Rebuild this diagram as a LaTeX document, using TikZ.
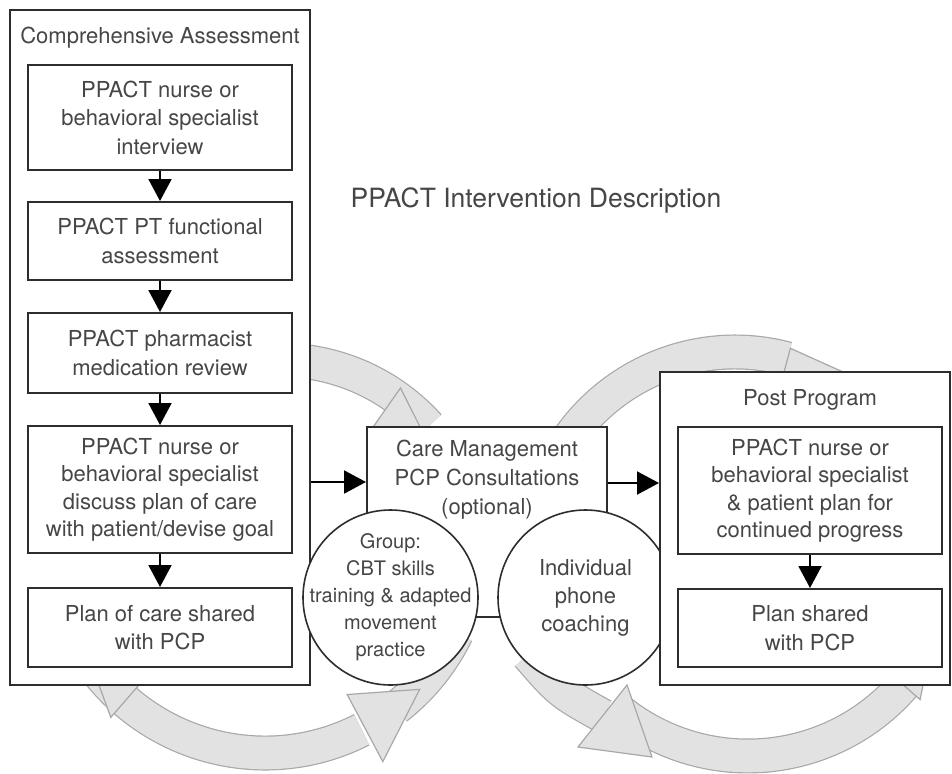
\documentclass[tikz,border=0pt]{standalone}
\usepackage{fontspec}
\setmainfont{TeX Gyre Heros}
\usetikzlibrary{arrows.meta,calc}
\definecolor{txt}{RGB}{70,70,70}
\definecolor{linec}{RGB}{45,45,45}
\definecolor{bandfill}{RGB}{226,226,226}
\definecolor{bandedge}{RGB}{168,168,168}
\newcommand\gband[4]{%
  \draw[bandO] ($(#1)+(#3:#2)$) arc[start angle=#3,end angle=#4,radius=#2];
  \draw[bandI] ($(#1)+(#3:#2)$) arc[start angle=#3,end angle=#4,radius=#2];}
\newcommand\gtiphead[7]{% center, base angle, outer r, inner r, tip angle, tip r, name
  \draw[gtip] ($(#1)+(#2:#3)$) -- ($(#1)+(#5:#6)$) -- ($(#1)+(#2:#4)$) -- cycle;}
\begin{document}
\begin{tikzpicture}[x=1pt,y=-1pt,
  bandO/.style={draw=bandedge,line width=35pt},
  bandI/.style={draw=bandfill,line width=32.6pt},
  gtip/.style={fill=bandfill,draw=bandedge,line width=1.2pt,line join=miter},
  outerbox/.style={draw=linec,line width=2pt,fill=white,inner sep=0pt},
  inbox/.style={draw=linec,line width=2pt,fill=white,minimum width=264pt,inner sep=0pt,
    align=center,text=txt,font=\fontsize{22}{28.5}\selectfont},
  lbl/.style={align=center,text=txt,inner sep=0pt,font=\fontsize{22}{29}\selectfont},
  circ/.style={circle,draw=linec,line width=1.6pt,fill=white,minimum size=175pt,inner sep=0pt},
  arr/.style={draw=black,line width=2pt,-{Triangle[width=23pt,length=22pt]}}]
\useasboundingbox (0,0) rectangle (952,773);
\fill[white] (0,0) rectangle (952,773);

% centres of the grey cycle arrows
\coordinate (CL1) at (280,560);
\coordinate (CL2) at (265,540);
\coordinate (CR) at (735,555);
\coordinate (CR2) at (748,550);

% left lobe
\gband{CL1}{200}{-105}{-42}
\gtiphead{CL1}{-55}{210}{160}{-40}{190}{hA}
\gband{CL2}{213}{150}{63}
\gtiphead{CL2}{131}{235}{191}{145}{213}{hL}
\gband{CL2}{213}{52}{26}
\gtiphead{CL2}{62}{251}{175}{44}{215}{hB}

% right lobe
\gband{CR}{203}{-150}{-75}
\gtiphead{CR}{-75}{214}{172}{-55}{215}{hC}
\gband{CR2}{206}{128}{40}
\gtiphead{CR2}{41}{228}{184}{27}{206}{hE}
\coordinate (dS) at (528,655);
\coordinate (dC) at (560,692);
\coordinate (dE) at (603,716);
\draw[bandO] (dS) .. controls (dC) .. (dE);
\draw[bandI] (dS) .. controls (dC) .. (dE);
\coordinate (hD1) at (627,685);
\coordinate (hD2) at (652,757);
\coordinate (hD3) at (578,747);
\draw[gtip] (hD1) -- (hD2) -- (hD3) -- cycle;

% title
\node[text=txt,inner sep=0pt,font=\fontsize{26.5}{30}\selectfont] (title) at (536,200) {PPACT Intervention Description};

% comprehensive assessment
\node[outerbox,minimum width=300pt,minimum height=675pt] (assess) at (160,347.5) {};
\node[lbl] (assesst) at (160,38) {Comprehensive Assessment};
\node[inbox,minimum height=105pt] (b1) at (160,117.5) {PPACT nurse or\\behavioral specialist\\interview};
\node[inbox,minimum height=78pt] (b2) at (160,241) {PPACT PT functional\\assessment};
\node[inbox,minimum height=80pt] (b3) at (160,353) {PPACT pharmacist\\medication review};
\node[inbox,minimum height=127pt,font=\fontsize{22}{27.5}\selectfont] (b4) at (160,489.5) {PPACT nurse or\\behavioral specialist\\discuss plan of care\\with patient/devise goal};
\node[inbox,minimum height=79pt] (b5) at (160,627.5) {Plan of care shared\\with PCP};

% care management
\node[outerbox,minimum width=240pt,minimum height=190pt] (care) at (487,522) {};
\node[lbl] (caret) at (487,480) {Care Management\\PCP Consultations\\(optional)};

% circles
\node[circ] (grp) at (390.5,597.5) {};
\node[lbl,font=\fontsize{20}{27}\selectfont] (grpt) at (grp) {Group:\\CBT skills\\training \& adapted\\movement\\practice};
\node[circ] (ind) at (585.5,597.5) {};
\node[lbl,font=\fontsize{22}{28}\selectfont] (indt) at (ind) {Individual\\phone\\coaching};

% post program
\node[outerbox,minimum width=290pt,minimum height=313pt] (post) at (805,528.5) {};
\node[lbl] (postt) at (810,400) {Post Program};
\node[inbox,minimum height=127pt,font=\fontsize{22}{27.5}\selectfont] (p1) at (810,490.5) {PPACT nurse or\\behavioral specialist\\\& patient plan for\\continued progress};
\node[inbox,minimum height=78pt] (p2) at (810,628) {Plan shared\\with PCP};

% black arrows
\draw[arr] (b1) -- (b2);
\draw[arr] (b2) -- (b3);
\draw[arr] (b3) -- (b4);
\draw[arr] (b4) -- (b5);
\draw[arr] (p1) -- (p2);
\coordinate (y1) at (0,482);
\coordinate (y2) at (0,483);
\draw[arr] (assess.east |- y1) -- (care.west |- y1);
\draw[arr] (care.east |- y2) -- (post.west |- y2);
\end{tikzpicture}
\end{document}
